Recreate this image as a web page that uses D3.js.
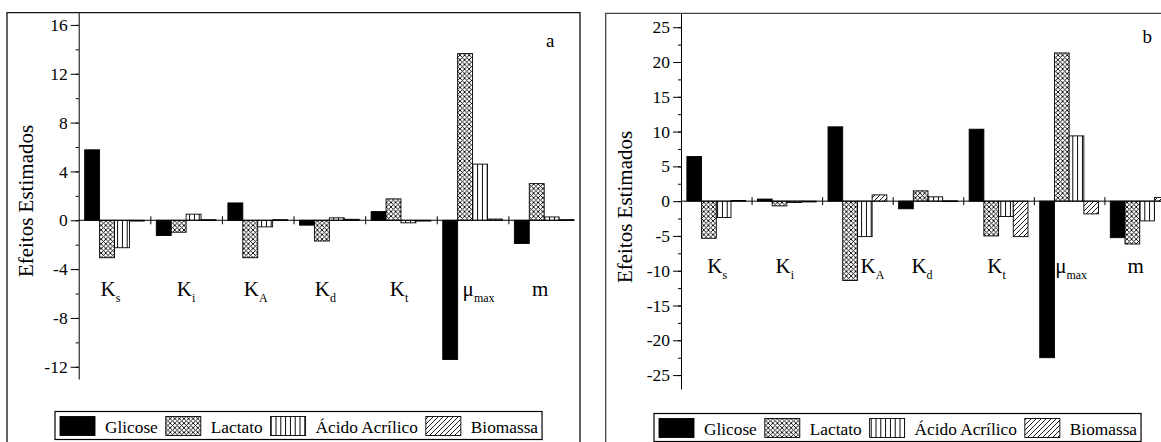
<!DOCTYPE html>
<html><head><meta charset="utf-8">
<script src="https://cdn.jsdelivr.net/npm/d3@7"></script>
<style>
body{margin:0;background:#fff;overflow:hidden}
</style>
</head><body>
<svg id="chart" width="1161" height="442"></svg>
<script>
// ---------- data ----------
const categories = ["Ks","Ki","KA","Kd","Kt","μmax","m"];
const labelMain = ["K","K","K","K","K","μ","m"];
const labelSub  = ["s","i","A","d","t","max",""];
const seriesNames = ["Glicose","Lactato","Ácido Acrílico","Biomassa"];

// panel a
const glicoseA  = [5.77, -1.25, 1.42, -0.40, 0.71, -11.40, -1.90];
const lactatoA  = [-3.07, -0.98, -3.07, -1.70, 1.75, 13.65, 3.00];
const acidoA    = [-2.25, 0.50, -0.54, 0.20, -0.21, 4.60, 0.27];
const biomassaA = [-0.05, 0.05, 0.05, 0.08, -0.05, 0.10, 0.05];
const ticksA = [-12, -8, -4, 0, 4, 8, 12, 16];
const minorA = [-12, -10, -8, -6, -4, -2, 0, 2, 4, 6, 8, 10, 12, 14, 16];

// panel b
const glicoseB  = [6.41, 0.30, 10.68, -1.10, 10.34, -22.50, -5.25];
const lactatoB  = [-5.34, -0.68, -11.40, 1.48, -5.00, 21.30, -6.16];
const acidoB    = [-2.36, -0.20, -5.10, 0.62, -2.20, 9.38, -2.84];
const biomassaB = [0.10, -0.10, 0.90, 0.05, -5.10, -1.83, 0.52];
const ticksB = [-25, -20, -15, -10, -5, 0, 5, 10, 15, 20, 25];
const minorB = [-25, -22.5, -20, -17.5, -15, -12.5, -10, -7.5, -5, -2.5, 0, 2.5, 5, 7.5, 10, 12.5, 15, 17.5, 20, 22.5, 25];

const yTitle = "Efeitos Estimados";

// ---------- drawing ----------
const FONT = '"Liberation Serif", "Times New Roman", "DejaVu Serif", serif';
const svg = d3.select("#chart").attr("font-family", FONT).style("font-family", FONT);
svg.append("rect").attr("width",1161).attr("height",442).attr("fill","#fff");
const defs = svg.append("defs");

function T(sel, size){ return sel.style("font-family", FONT).style("font-size", size).attr("fill","#000"); }

// cross hatch
const pc = defs.append("pattern").attr("id","cross").attr("patternUnits","userSpaceOnUse")
  .attr("width",4.6).attr("height",4.6);
pc.append("rect").attr("width",4.6).attr("height",4.6).attr("fill","#fff");
pc.append("path").attr("d","M0,0L4.6,4.6M0,4.6L4.6,0").attr("stroke","#000").attr("stroke-width",0.9);
// vertical lines
const pv = defs.append("pattern").attr("id","vert").attr("patternUnits","userSpaceOnUse")
  .attr("width",4.8).attr("height",4);
pv.append("rect").attr("width",4.8).attr("height",4).attr("fill","#fff");
pv.append("path").attr("d","M2.4,0V4").attr("stroke","#000").attr("stroke-width",1);
// diagonal lines
const pd = defs.append("pattern").attr("id","diag").attr("patternUnits","userSpaceOnUse")
  .attr("width",5).attr("height",5);
pd.append("rect").attr("width",5).attr("height",5).attr("fill","#fff");
pd.append("path").attr("d","M0,5L5,0M-1,1L1,-1M4,6L6,4").attr("stroke","#000").attr("stroke-width",0.9);

const fills = ["#000","url(#cross)","url(#vert)","url(#diag)"];

function panel(cfg){
  const g = svg.append("g");
  // frame
  g.append("path").attr("d",cfg.frame).attr("fill","none").attr("stroke",cfg.frameColor).attr("stroke-width",1.3);

  const y = d3.scaleLinear().domain(cfg.domain).range([cfg.yBot, cfg.yTop]);
  const xi = d3.scaleLinear().domain([0, categories.length]).range([cfg.x0, cfg.x1]);
  const xb = d3.scaleBand().domain(categories).range([cfg.x0, cfg.x1]).paddingInner(0).paddingOuter(0);
  const xs = d3.scaleBand().domain(seriesNames).range([0, xb.bandwidth()]).paddingOuter(0.4).paddingInner(0);

  // bars
  cfg.series.forEach((vals, si) => {
    g.append("g").selectAll("rect").data(vals).join("rect")
      .attr("x", (d,i) => xb(categories[i]) + xs(seriesNames[si]))
      .attr("width", xs.bandwidth())
      .attr("y", d => Math.min(y(d), y(0)))
      .attr("height", d => Math.max(Math.abs(y(d) - y(0)), 0.8))
      .attr("fill", fills[si])
      .attr("stroke", "#000").attr("stroke-width", 0.9);
  });

  // y axis
  const ya = g.append("g").attr("transform",`translate(${cfg.x0},0)`)
    .call(d3.axisLeft(y).tickValues(cfg.ticks).tickSize(8).tickSizeOuter(0).tickPadding(3)
      .tickFormat(d => d));
  ya.attr("font-family", null).attr("font-size", null);
  ya.select(".domain").attr("stroke","#000");
  T(ya.selectAll(".tick text"), "17.5px");
  ya.selectAll(".tick line").attr("stroke","#000");
  const ym = g.append("g").attr("transform",`translate(${cfg.x0},0)`)
    .call(d3.axisLeft(y).tickValues(cfg.minor).tickSize(3).tickSizeOuter(0).tickFormat(""));
  ym.select(".domain").remove();
  ym.selectAll(".tick line").attr("stroke","#000");

  // x axis at zero with category boundary ticks
  const xa = g.append("g").attr("transform",`translate(0,${y(0)})`)
    .call(d3.axisBottom(xi).tickValues(d3.range(1, categories.length)).tickSize(4).tickSizeOuter(0).tickFormat(""));
  xa.select(".domain").attr("d",`M${cfg.x0},0H${cfg.xAxisEnd}`).attr("stroke","#000");
  xa.selectAll(".tick line").attr("y1",-4).attr("y2",4).attr("stroke","#000");

  // category labels
  categories.forEach((c,i) => {
    const t = T(g.append("text"), "21px").attr("x", xb(c) + xb.bandwidth()/2 + cfg.labelDx[i]).attr("y", cfg.labelY)
      .attr("text-anchor","middle");
    t.append("tspan").text(labelMain[i]);
    if (labelSub[i]) t.append("tspan").attr("dy", 6).style("font-size","12px").text(labelSub[i]);
  });

  // y title
  T(g.append("text"), "21px").attr("transform",`translate(${cfg.titleX},${cfg.titleY}) rotate(-90)`)
    .attr("text-anchor","middle").text(yTitle);

  // panel letter
  T(g.append("text"), "19px").attr("x",cfg.letterX).attr("y",cfg.letterY).text(cfg.letter);

  // legend
  const lg = g.append("g");
  let x = cfg.legX + 5;
  seriesNames.forEach((s,si) => {
    lg.append("rect").attr("x",x).attr("y",cfg.legY+5).attr("width",35).attr("height",19)
      .attr("fill",fills[si]).attr("stroke","#000").attr("stroke-width",0.9);
    const tx = T(lg.append("text"), "17.3px").attr("x",x+45).attr("y",cfg.legY+21).text(s);
    const w = tx.node().getComputedTextLength();
    x = x + 45 + w + 8;
  });
  lg.insert("rect",":first-child").attr("x",cfg.legX).attr("y",cfg.legY)
    .attr("width", x - 8 + 4 - cfg.legX).attr("height",28)
    .attr("fill","#fff").attr("stroke","#000").attr("stroke-width",1.2);
}

panel({
  series:[glicoseA, lactatoA, acidoA, biomassaA],
  domain:[-13,17], ticks:ticksA, minor:minorA,
  x0:78.7, x1:580, xAxisEnd:574, yTop:12.7, yBot:379,
  frame:"M7,443V12.7H580V443", frameColor:"#111",
  labelY:296, labelDx:[-4,0,-2,-4,-2,6,-4],
  titleX:33, titleY:201,
  letter:"a", letterX:546, letterY:47,
  legX:55, legY:411.5
});

panel({
  series:[glicoseB, lactatoB, acidoB, biomassaB],
  domain:[-27,27], ticks:ticksB, minor:minorB,
  x0:681, x1:1175, xAxisEnd:1175, yTop:13.3, yBot:389,
  frame:"M605.7,443V13.3H1162", frameColor:"#444",
  labelY:273, labelDx:[1,-2,15,-6,-2,2,-4],
  titleX:632, titleY:207,
  letter:"b", letterX:1142.5, letterY:43,
  legX:654, legY:413.5
});
</script>
</body></html>
